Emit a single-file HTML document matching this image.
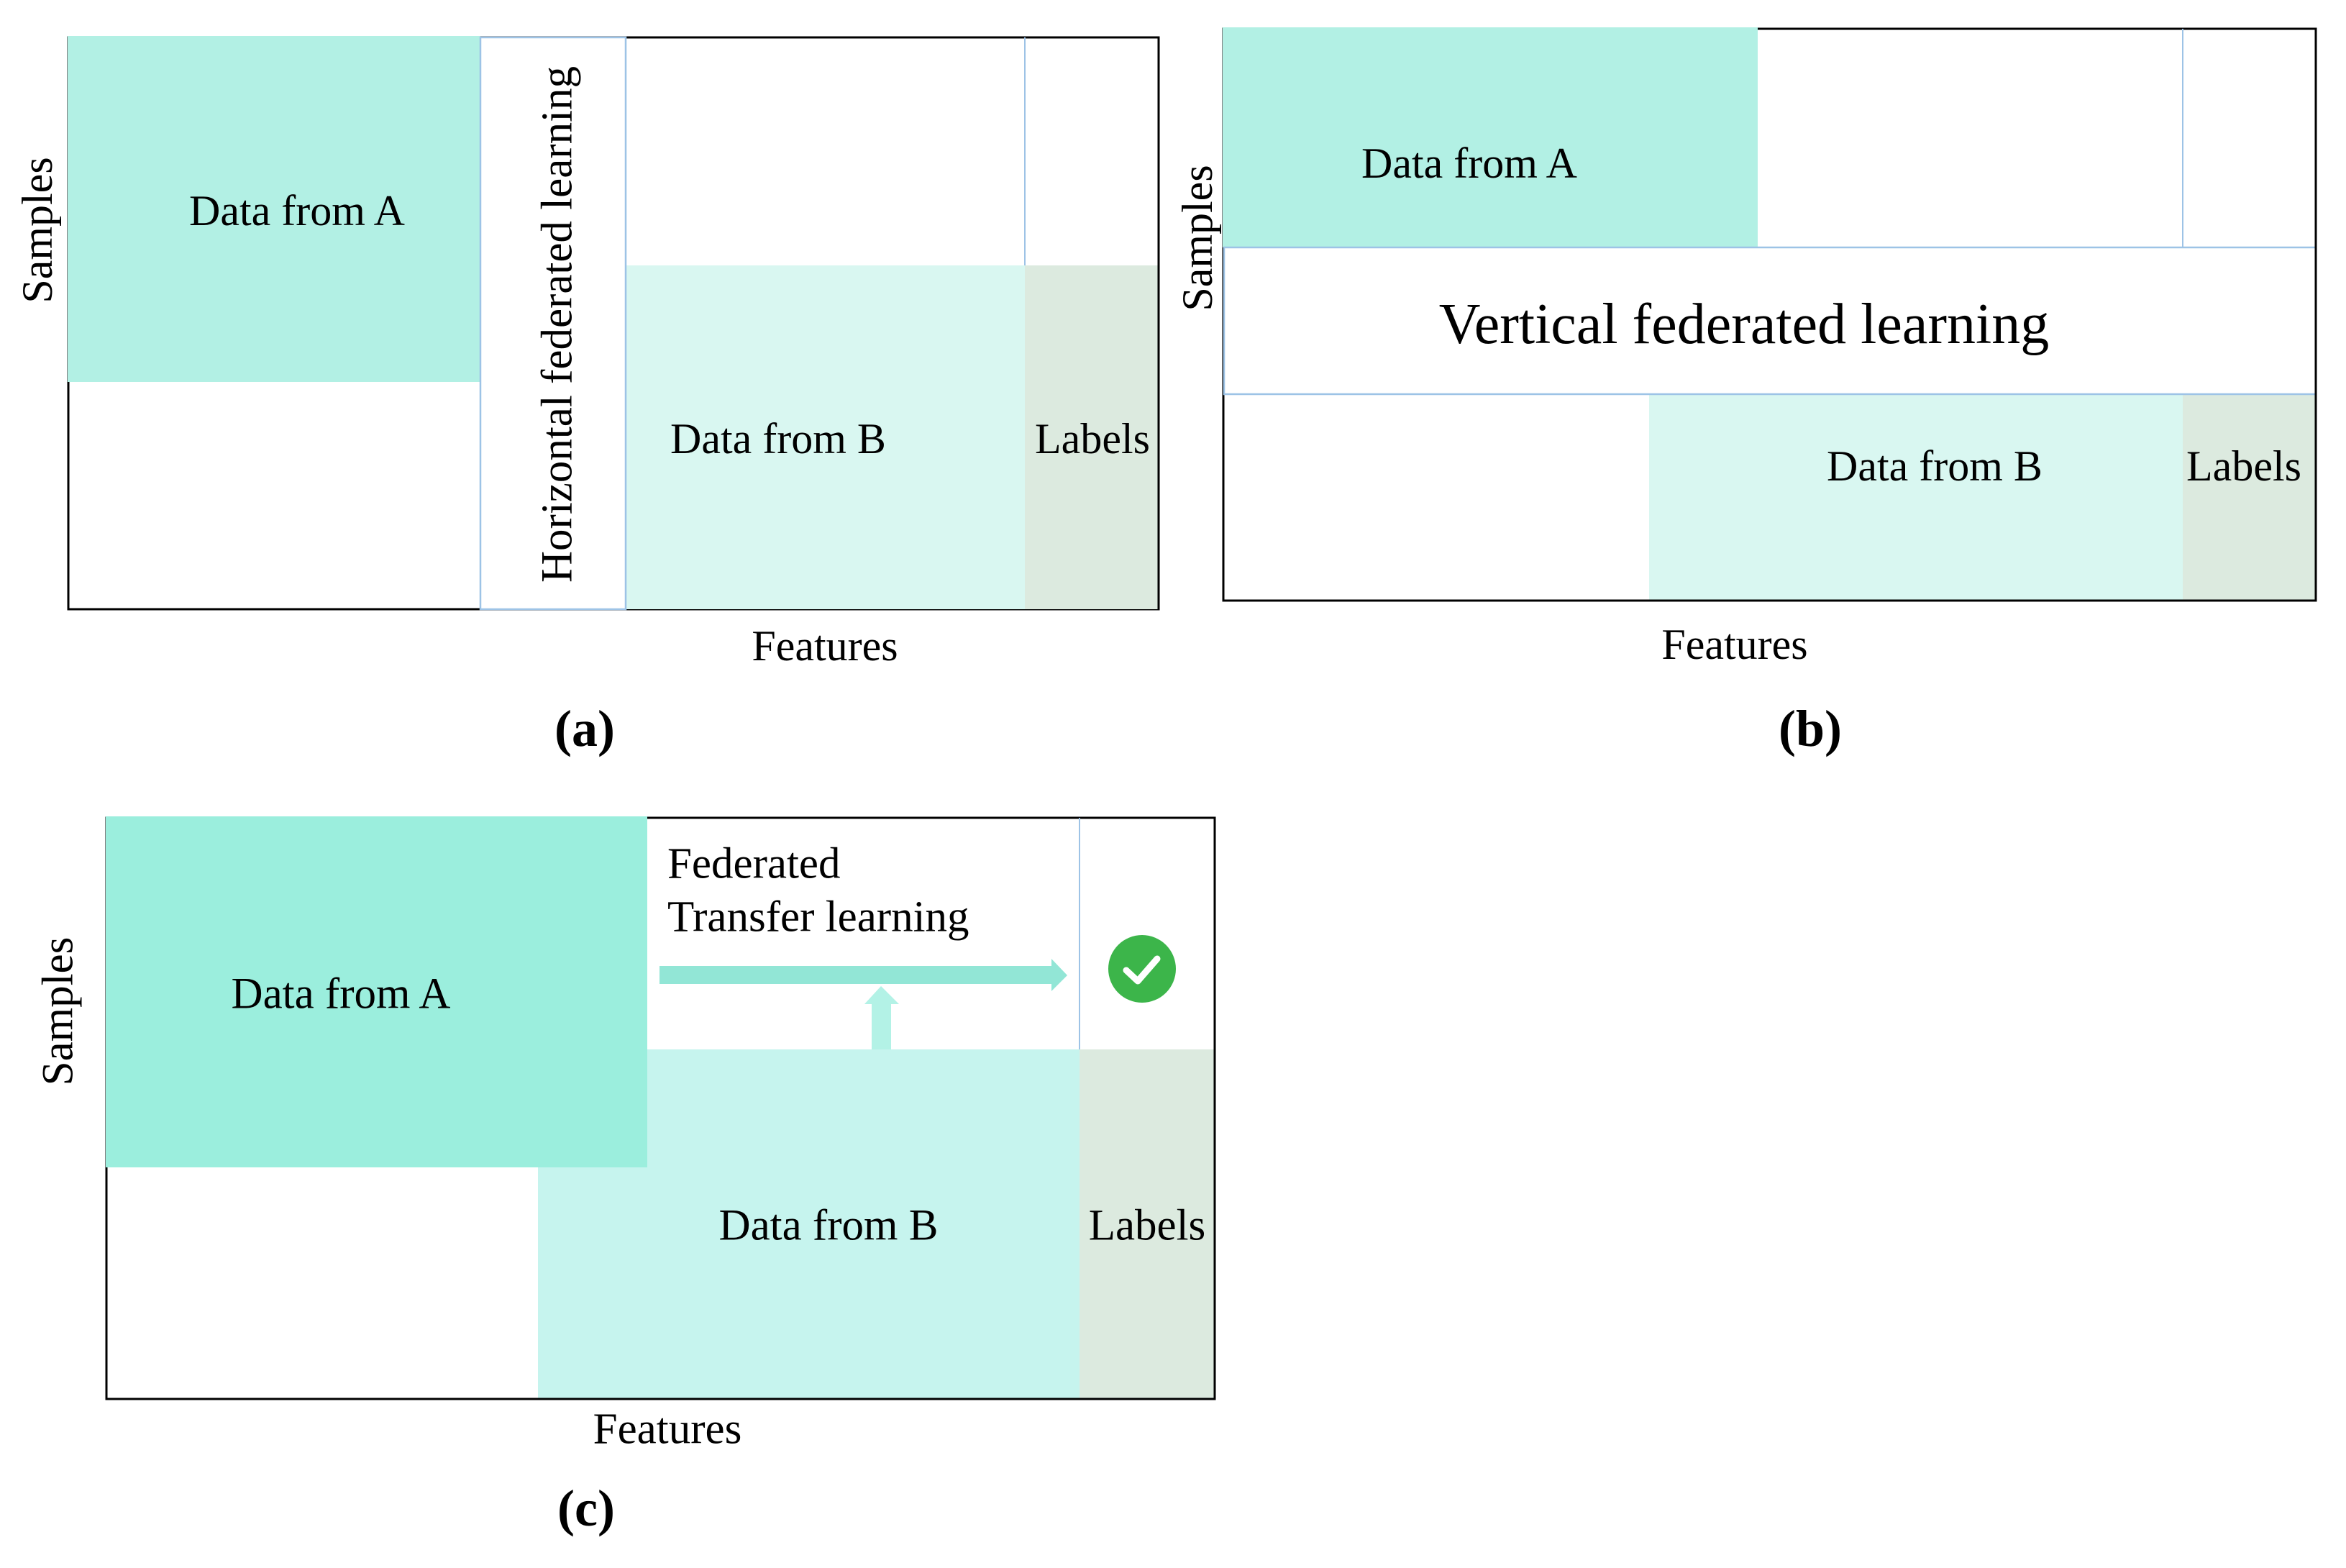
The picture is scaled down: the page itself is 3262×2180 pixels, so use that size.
<!DOCTYPE html>
<html><head><meta charset="utf-8"><style>html,body{margin:0;padding:0;background:#fff}svg{display:block}</style></head><body>
<svg width="3262" height="2180" viewBox="0 0 3262 2180" xmlns="http://www.w3.org/2000/svg" font-family="'Liberation Serif', serif" fill="#000">
<!-- Panel a -->
<rect x="95" y="52" width="1516" height="795" fill="#fff" stroke="#000" stroke-width="3"/>
<rect x="94" y="50" width="574" height="481" fill="#b2f0e4"/>
<rect x="870" y="369" width="555" height="478" fill="#d9f7f1"/>
<rect x="1425" y="369" width="186" height="478" fill="#dceadf"/>
<line x1="1425" y1="52" x2="1425" y2="369" stroke="#9dc3e6" stroke-width="2"/>
<rect x="668" y="52" width="202" height="795" fill="#fff" stroke="#9dc3e6" stroke-width="2.5"/>
<line x1="1611" y1="52" x2="1611" y2="847" stroke="#000" stroke-width="3"/>
<text x="413" y="293" font-size="60" text-anchor="middle" dominant-baseline="central">Data from A</text>
<text x="1082" y="610" font-size="60" text-anchor="middle" dominant-baseline="central">Data from B</text>
<text x="1519" y="610" font-size="60" text-anchor="middle" dominant-baseline="central">Labels</text>
<text x="1147" y="898" font-size="60" text-anchor="middle" dominant-baseline="central">Features</text>
<text transform="translate(775,451) rotate(-90)" font-size="61" text-anchor="middle" dominant-baseline="central">Horizontal federated learning</text>
<text transform="translate(52,320) rotate(-90)" font-size="60" text-anchor="middle" dominant-baseline="central">Samples</text>
<text x="813" y="1013" font-size="72" font-weight="bold" text-anchor="middle" dominant-baseline="central">(a)</text>

<!-- Panel b -->
<rect x="1701" y="40" width="1519" height="795" fill="#fff" stroke="#000" stroke-width="3"/>
<rect x="1700" y="38" width="744" height="306" fill="#b2f0e4"/>
<rect x="2293" y="548" width="742" height="287" fill="#d9f7f1"/>
<rect x="3035" y="548" width="185" height="287" fill="#dceadf"/>
<line x1="3035" y1="40" x2="3035" y2="344" stroke="#9dc3e6" stroke-width="2"/>
<rect x="1702" y="344" width="1518" height="204" fill="#fff" stroke="#9dc3e6" stroke-width="2.5"/>
<line x1="3220" y1="40" x2="3220" y2="835" stroke="#000" stroke-width="3"/>
<line x1="1701" y1="835" x2="3220" y2="835" stroke="#000" stroke-width="3"/>
<text x="2043" y="227" font-size="60" text-anchor="middle" dominant-baseline="central">Data from A</text>
<text x="2425" y="451" font-size="80" text-anchor="middle" dominant-baseline="central">Vertical federated learning</text>
<text x="2690" y="648" font-size="60" text-anchor="middle" dominant-baseline="central">Data from B</text>
<text x="3120" y="648" font-size="60" text-anchor="middle" dominant-baseline="central">Labels</text>
<text x="2412" y="896" font-size="60" text-anchor="middle" dominant-baseline="central">Features</text>
<text transform="translate(1665,331) rotate(-90)" font-size="60" text-anchor="middle" dominant-baseline="central">Samples</text>
<text x="2517" y="1013" font-size="72" font-weight="bold" text-anchor="middle" dominant-baseline="central">(b)</text>

<!-- Panel c -->
<rect x="148" y="1137" width="1541" height="808" fill="#fff" stroke="#000" stroke-width="3"/>
<rect x="748" y="1459" width="753" height="486" fill="#c6f4ee"/>
<rect x="147" y="1135" width="753" height="488" fill="#9beedd"/>
<rect x="1501" y="1459" width="188" height="486" fill="#dceadf"/>
<line x1="1501" y1="1137" x2="1501" y2="1459" stroke="#9dc3e6" stroke-width="2"/>
<line x1="1689" y1="1137" x2="1689" y2="1945" stroke="#000" stroke-width="3"/>
<line x1="148" y1="1945" x2="1689" y2="1945" stroke="#000" stroke-width="3"/>
<polygon points="917,1343 1462,1343 1462,1333 1484,1356 1462,1378 1462,1368 917,1368" fill="#92e6d6"/>
<polygon points="1212,1459 1212,1396 1202,1396 1225,1371 1250,1396 1239,1396 1239,1459" fill="#b3f2e6"/>
<circle cx="1588" cy="1347" r="47" fill="#3cb54a"/>
<polyline points="1566,1349 1582,1364 1609,1333" fill="none" stroke="#fff" stroke-width="9" stroke-linecap="round" stroke-linejoin="round"/>
<text x="928" y="1201" font-size="61" dominant-baseline="central">Federated</text>
<text x="928" y="1275" font-size="61" dominant-baseline="central">Transfer learning</text>
<text x="474" y="1382" font-size="61" text-anchor="middle" dominant-baseline="central">Data from A</text>
<text x="1152" y="1704" font-size="61" text-anchor="middle" dominant-baseline="central">Data from B</text>
<text x="1595" y="1704" font-size="61" text-anchor="middle" dominant-baseline="central">Labels</text>
<text x="928" y="1987" font-size="61" text-anchor="middle" dominant-baseline="central">Features</text>
<text transform="translate(81,1406) rotate(-90)" font-size="61" text-anchor="middle" dominant-baseline="central">Samples</text>
<text x="815" y="2097" font-size="72" font-weight="bold" text-anchor="middle" dominant-baseline="central">(c)</text>
</svg>
</body></html>
